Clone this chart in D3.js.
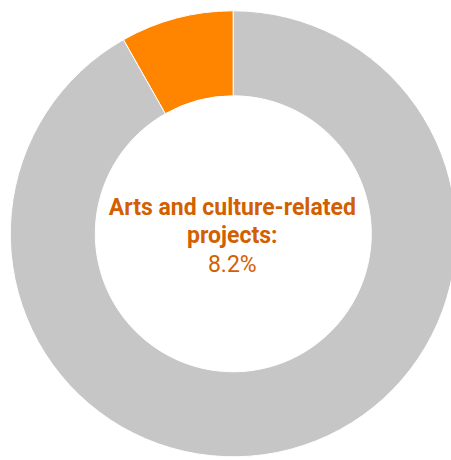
<!DOCTYPE html>
<html>
<head>
<meta charset="utf-8">
<script src="https://cdn.jsdelivr.net/npm/d3@7"></script>
<style>
  body { margin: 0; background: #fff; }
  svg { display: block; }
</style>
</head>
<body>
<div id="chart"></div>
<script>
    //---------------------------------------------------
    // data
    //---------------------------------------------------
    var categories = ["Arts and culture-related projects", "Other"]
    var shares = [8.2, 91.8]
    var colors = ["#ff8500", "#c6c6c6"]
    var labelLines = ["Arts and culture-related", "projects:"]
    var labelValue = "8.2%"

    //---------------------------------------------------
    // init parameters
    //---------------------------------------------------
    var width = 451,
        height = 460
    var cx = 233.3,
        cy = 233.8
    var outerRadius = 223,
        innerRadius = 138
    var textColor = "#d35f00"
    var fontSize = 23
    var lineStep = 28

    var svg = d3.select('#chart')
        .append('svg')
        .attr('width', width)
        .attr('height', height)

    var g = svg.append('g')
        .attr('transform', 'translate(' + cx + ',' + cy + ')')

    //------------------------------------------
    // draw the donut (first slice runs counter-clockwise from the top)
    //------------------------------------------
    var pie = d3.pie()
        .value(d => d)
        .startAngle(0)
        .endAngle(-2 * Math.PI)
        .sort(null)

    var arc = d3.arc()
        .innerRadius(innerRadius)
        .outerRadius(outerRadius)

    g.selectAll('path')
        .data(pie(shares))
        .enter()
        .append('path')
        .attr('d', arc)
        .attr('fill', (d, i) => colors[i])
        .attr('stroke', '#fff')
        .attr('stroke-width', 1)

    //------------------------------------------
    // centre label
    //------------------------------------------
    var label = g.append('text')
        .attr('text-anchor', 'middle')
        .style('font-family', 'Roboto, sans-serif')
        .style('font-size', fontSize + 'px')
        .style('fill', textColor)

    labelLines.forEach((t, i) => {
        label.append('tspan')
            .attr('x', -1)
            .attr('y', -19 + i * lineStep)
            .style('font-weight', 'bold')
            .text(t)
    })

    label.append('tspan')
        .attr('x', -1)
        .attr('y', -19 + labelLines.length * lineStep + 1)
        .text(labelValue)
</script>
</body>
</html>
